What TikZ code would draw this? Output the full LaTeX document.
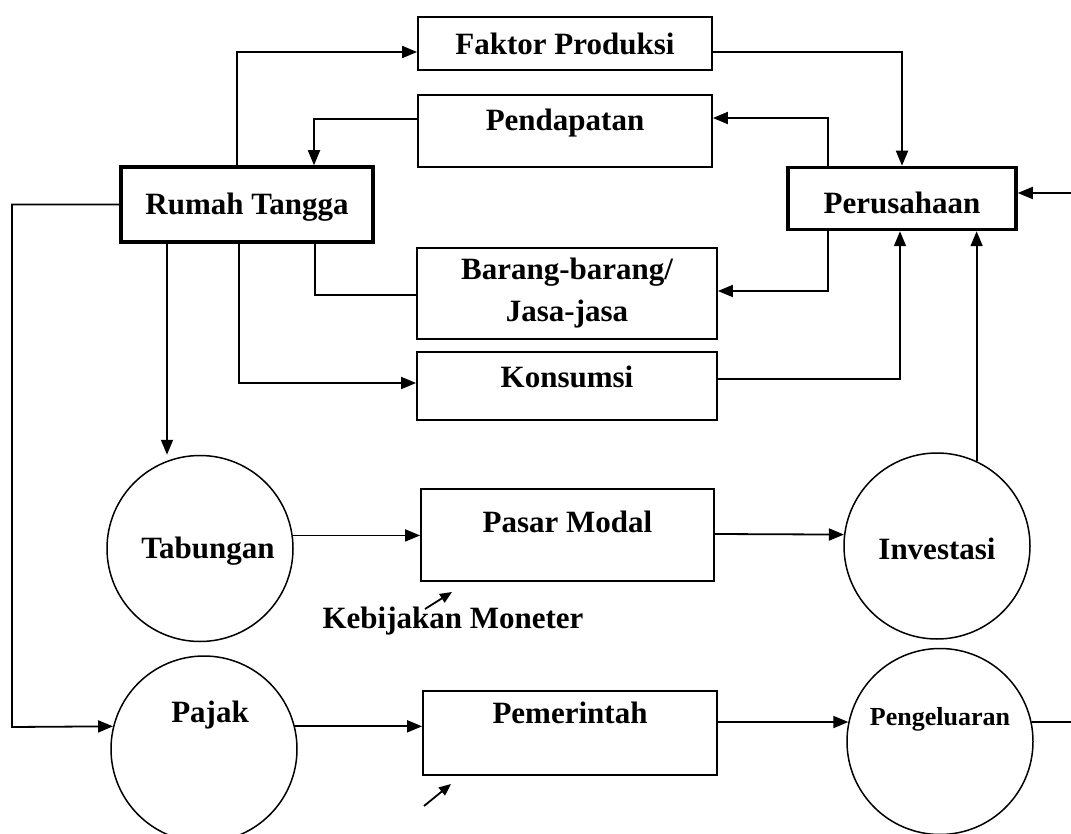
\documentclass[tikz,border=0pt]{standalone}
\usepackage{fontspec}
\setmainfont{Liberation Serif}
\usetikzlibrary{arrows.meta}

\begin{document}
\begin{tikzpicture}[x=1pt,y=-1pt,line width=1.8pt,
    >={Triangle[length=15pt,width=12pt]},
    box/.style={draw,rectangle,inner sep=2pt,align=center,
      font=\bfseries\fontsize{31}{42}\selectfont},
    mainbox/.style={box,line width=3.5pt},
    flow/.style={draw,circle,line width=1.5pt,minimum size=186pt,inner sep=2pt,
      font=\bfseries\fontsize{31}{42}\selectfont},
    lift/.style={text height=22pt,text depth=#1},
    drop/.style={text height=#1,text depth=0pt},
    small/.style={-{Triangle[length=12pt,width=10pt]}}]
    \useasboundingbox (0,0) rectangle (1071,834);

    % Boxes
    \node[box,minimum width=294pt,minimum height=53pt] (fp) at (565,43.5) {Faktor Produksi};
    \node[box,lift=22.5pt,minimum width=294pt,minimum height=72pt] (pend) at (565,131) {Pendapatan};
    \node[mainbox,lift=1.5pt,minimum width=252pt,minimum height=75pt] (rt) at (247,204.5) {Rumah Tangga};
    \node[mainbox,drop=30.5pt,minimum width=228pt,minimum height=62pt] (per) at (902,198.5) {Perusahaan};
    \node[box,minimum width=300pt,minimum height=91pt] (brg) at (567,293.5) {Barang-barang/\\Jasa-jasa};
    \node[box,lift=18.5pt,minimum width=300pt,minimum height=68pt] (kons) at (567,386) {Konsumsi};
    \node[box,lift=26.5pt,minimum width=293pt,minimum height=92pt] (pm) at (567.5,535) {Pasar Modal};
    \node[box,lift=41.5pt,minimum width=294pt,minimum height=84pt] (pem) at (570,733) {Pemerintah};

    % Circles
    \node[flow,lift=1.5pt] (tab) at (200,548.5) {\hspace*{16pt}Tabungan};
    \node[flow,lift=74.5pt] (paj) at (204,749) {\hspace*{12pt}Pajak};
    \node[flow,drop=26.5pt] (inv) at (937,546) {Investasi};
    \node[flow,text height=18.5pt,text depth=50.3pt,
      font=\bfseries\fontsize{26}{30}\selectfont] (peng) at (940,741.5) {Pengeluaran};

    % Label
    \node[font=\bfseries\fontsize{31}{42}\selectfont,anchor=base] (kmon) at (453,628) {Kebijakan Moneter};

    % Free ends
    \coordinate (km1) at (425,609);
    \coordinate (km2) at (452,592);
    \coordinate (kf1) at (424,806);
    \coordinate (kf2) at (451,784);
    \coordinate (edge1) at (1071,193);
    \coordinate (edge2) at (1071,722);

    % Arrows
    \draw[->] (rt.north -| 237,0) |- (fp.west |- 0,52);
    \draw[->] (fp.east |- 0,52) -| (per.north);
    \draw[->] (per.north -| 828,0) |- (pend.east |- 0,118);
    \draw[->] (pend.west |- 0,119) -| (rt.north -| 314,0);
    \draw (rt.south -| 315,0) |- (brg.west |- 0,295);
    \draw[->] (per.south -| 828,0) |- (brg.east |- 0,291);
    \draw[->] (rt.south -| 239,0) |- (kons.west |- 0,383);
    \draw[->] (kons.east |- 0,379) -| (per.south -| 900,0);
    \draw[->] (rt.south -| 167,0) -- (tab.north -| 167,0);
    \draw[->] (rt.west) -| (12,727) -- (paj.166);

    \draw[->] (tab.8) -- (pm.west |- tab.8);
    \draw[->] (pm.east |- 0,534) -- (inv.173);
    \draw[->] (inv.65) -- (inv.65 |- per.south);
    \draw[->] (paj.14) -- (pem.west |- paj.14);
    \draw[->] (pem.east |- 0,722) -- (peng.168);
    \draw (peng.12) -- (edge2);
    \draw[->] (edge1) -- (per.east |- edge1);

    \draw[small] (km1) -- (km2);
    \draw[small] (kf1) -- (kf2);
\end{tikzpicture}
\end{document}
